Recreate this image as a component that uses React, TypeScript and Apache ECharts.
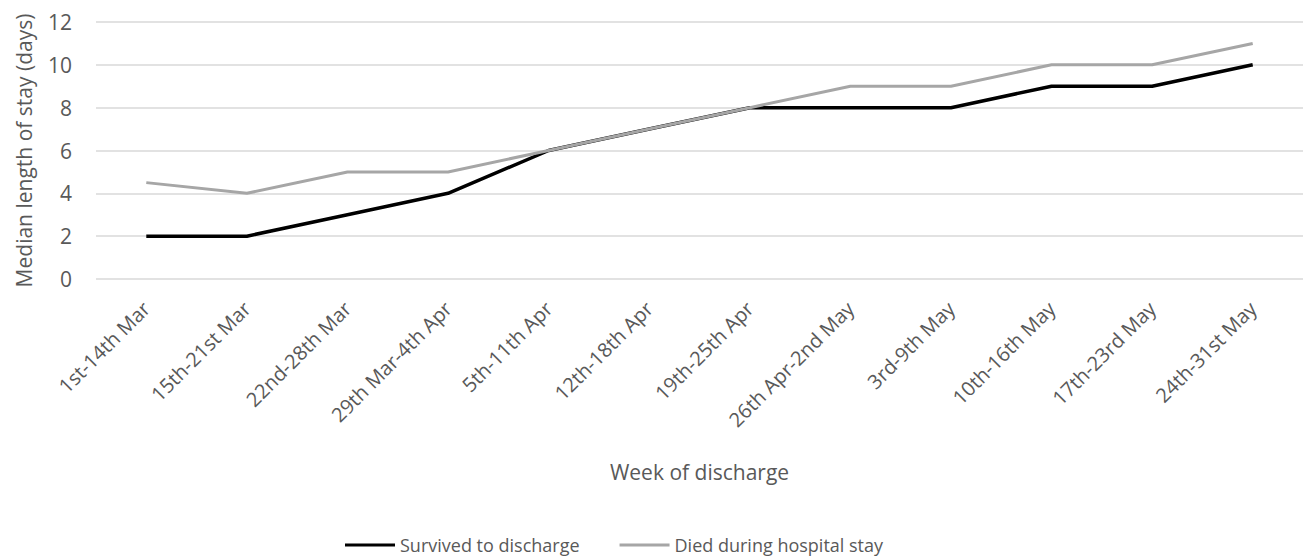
import React, { useEffect, useRef } from "react";
import * as echarts from "echarts";

const weeks = [
  "1st-14th Mar",
  "15th-21st Mar",
  "22nd-28th Mar",
  "29th Mar-4th Apr",
  "5th-11th Apr",
  "12th-18th Apr",
  "19th-25th Apr",
  "26th Apr-2nd May",
  "3rd-9th May",
  "10th-16th May",
  "17th-23rd May",
  "24th-31st May",
];
const survived = [2, 2, 3, 4, 6, 7, 8, 8, 8, 9, 9, 10];
const died = [4.5, 4, 5, 5, 6, 7, 8, 9, 9, 10, 10, 11];

const FONT = "'Open Sans', sans-serif";
const TXT = "#595959";

export default function App() {
  const ref = useRef<HTMLDivElement>(null);
  useEffect(() => {
    if (!ref.current) return;
    const chart = echarts.init(ref.current, undefined, { renderer: "svg" });
    chart.setOption({
      animation: false,
      backgroundColor: "#ffffff",
      textStyle: { fontFamily: FONT },
      grid: { left: 96, right: 3, top: 22, bottom: 277, containLabel: false },
      legend: {
        left: 340,
        top: 530,
        icon: "rect",
        itemWidth: 50,
        itemHeight: 3,
        itemGap: 40,
        textStyle: { fontFamily: FONT, fontSize: 18, color: TXT, lineHeight: 20 },
        data: ["Survived to discharge", "Died during hospital stay"],
      },
      xAxis: {
        type: "category",
        data: weeks,
        boundaryGap: true,
        name: "Week of discharge",
        nameLocation: "middle",
        nameGap: 182,
        nameTextStyle: { fontFamily: FONT, fontSize: 21, color: TXT },
        axisLine: { show: false },
        axisTick: { show: false },
        axisLabel: {
          rotate: 45,
          margin: 26,
          interval: 0,
          fontFamily: FONT,
          fontSize: 20,
          color: TXT,
        },
      },
      yAxis: {
        type: "value",
        min: 0,
        max: 12,
        interval: 2,
        name: "Median length of stay (days)",
        nameLocation: "middle",
        nameGap: 62,
        nameTextStyle: { fontFamily: FONT, fontSize: 21, color: TXT },
        axisLine: { show: false },
        axisTick: { show: false },
        axisLabel: { margin: 24, fontFamily: FONT, fontSize: 21, color: TXT },
        splitLine: { lineStyle: { color: "#d9d9d9", width: 1.5 } },
      },
      series: [
        {
          name: "Survived to discharge",
          type: "line",
          data: survived,
          symbol: "none",
          color: "#000000",
          lineStyle: { color: "#000000", width: 3.5 },
        },
        {
          name: "Died during hospital stay",
          type: "line",
          data: died,
          symbol: "none",
          color: "#a6a6a6",
          lineStyle: { color: "#a6a6a6", width: 3 },
        },
      ],
    });
    return () => chart.dispose();
  }, []);
  return (
    <div
      ref={ref}
      style={{ position: "fixed", left: 0, top: 0, width: 1306, height: 556 }}
    />
  );
}
